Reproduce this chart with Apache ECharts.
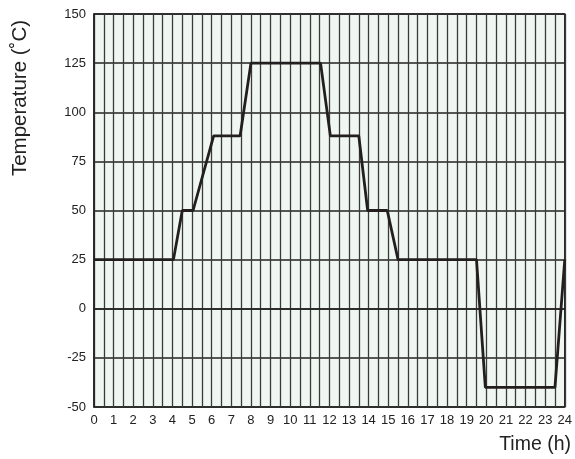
<!DOCTYPE html>
<html>
<head>
<meta charset="utf-8">
<script src="https://cdn.jsdelivr.net/npm/echarts@6/dist/echarts.min.js"></script>
<style>html,body{margin:0;padding:0;background:#fff;}#c{width:575px;height:459px;}</style>
</head>
<body>
<div id="c"></div>
<script>
var timeHours = [0, 4.05, 4.5, 5.05, 6.1, 7.45, 8.0, 11.55, 12.05, 13.5, 13.95, 14.95, 15.5, 19.5, 19.95, 23.5, 24];
var temperatures = [25, 25, 50, 50, 88, 88, 125, 125, 88, 88, 50, 50, 25, 25, -40, -40, 25];
var yTicks = [-50, -25, 0, 25, 50, 75, 100, 125, 150];
var xTickLabels = ['0','1','2','3','4','5','6','7','8','9','10','11','12','13','14','15','16','17','18','19','20','21','22','23','24'];
var xTitle = 'Time (h)';
var yTitle = 'Temperature (˚C)';

var chart = echarts.init(document.getElementById('c'), null, {renderer: 'canvas'});
var font = 'Liberation Sans, Arial, sans-serif';
chart.setOption({
  animation: false,
  grid: {left: 94, right: 5.5, top: 14, bottom: 52, show: true, backgroundColor: '#f0f7f3', borderColor: '#222', borderWidth: 1.5},
  xAxis: {
    type: 'value', min: 0, max: 24, interval: 0.5,
    axisLine: {show: true, lineStyle: {color: '#222', width: 1.5}},
    axisTick: {show: false},
    axisLabel: {
      fontFamily: font, fontSize: 13, color: '#222', margin: 7, showMinLabel: true, showMaxLabel: true,
      formatter: function (v) { return Number.isInteger(v) ? xTickLabels[v] : ''; }
    },
    splitLine: {show: true, lineStyle: {color: '#3a3a3a', width: 1.3}}
  },
  yAxis: {
    type: 'value', min: yTicks[0], max: yTicks[yTicks.length - 1], interval: 25,
    axisLine: {show: true, lineStyle: {color: '#222', width: 1.5}},
    axisTick: {show: false},
    axisLabel: {fontFamily: font, fontSize: 13, color: '#222', margin: 8, padding: [5, 0, 0, 0]},
    splitLine: {show: true, lineStyle: {color: '#222', width: 1.5}}
  },
  graphic: [{
    type: 'text',
    x: 20, y: 98,
    rotation: Math.PI / 2,
    style: {text: yTitle, fontFamily: font, fontSize: 20.5, fill: '#222', align: 'center', verticalAlign: 'middle'}
  }, {
    type: 'text',
    x: 571, y: 445,
    style: {text: xTitle, fontFamily: font, fontSize: 19.5, fill: '#222', align: 'right', verticalAlign: 'middle'}
  }],
  series: [{
    type: 'line', symbol: 'none',
    data: timeHours.map(function (t, i) { return [t, temperatures[i]]; }),
    lineStyle: {color: '#231f20', width: 2.8}
  }]
});
</script>
</body>
</html>
